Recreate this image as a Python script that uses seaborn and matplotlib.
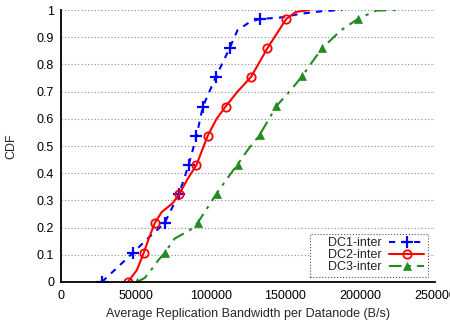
import matplotlib
matplotlib.use('Agg')
import matplotlib.pyplot as plt
import seaborn as sns
import pandas as pd

# CDF curves (bandwidth in B/s)
DC1_BW = [27300, 38000, 48000, 58000, 69300, 74000, 78700, 82000, 85300, 90500, 94700,
          103300, 112700, 118000, 126000, 132700, 146000, 160000, 175000, 188000]
DC1_CDF = [0.0, 0.055, 0.107, 0.16, 0.217, 0.27, 0.323, 0.375, 0.43, 0.535, 0.643,
           0.752, 0.86, 0.926, 0.955, 0.967, 0.972, 0.986, 0.996, 1.0]
DC1_MARKS = [0, 2, 4, 6, 8, 9, 10, 11, 12, 15]

DC2_BW = [44700, 50700, 55300, 59000, 62700, 67300, 74700, 79000, 84500, 90500, 98000,
          104000, 110000, 118000, 127000, 138000, 150700, 157000, 166000]
DC2_CDF = [0.0, 0.044, 0.107, 0.165, 0.217, 0.257, 0.29, 0.323, 0.378, 0.43, 0.537,
           0.6, 0.645, 0.70, 0.754, 0.86, 0.968, 0.993, 1.0]
DC2_MARKS = [0, 2, 4, 7, 9, 10, 12, 14, 15, 16]

DC3_BW = [50700, 56000, 61000, 65000, 69300, 76000, 86000, 91300, 97500, 104000, 111000,
          118000, 125000, 132700, 144000, 152700, 161300, 168000, 174700, 187000, 198700,
          210700, 224000]
DC3_CDF = [0.0, 0.015, 0.05, 0.08, 0.107, 0.16, 0.19, 0.217, 0.27, 0.325, 0.38,
           0.432, 0.487, 0.54, 0.647, 0.70, 0.757, 0.81, 0.86, 0.925, 0.968,
           0.998, 1.0]
DC3_MARKS = [0, 4, 7, 9, 11, 13, 14, 16, 18, 20]

X_TICKS = [0, 50000, 100000, 150000, 200000, 250000]
Y_TICKS = [0, 0.1, 0.2, 0.3, 0.4, 0.5, 0.6, 0.7, 0.8, 0.9, 1]

sns.set_style('white')
plt.rcParams['font.family'] = ['Liberation Sans', 'DejaVu Sans']

fig = plt.figure(figsize=(4.5, 3.21), dpi=100)
ax = fig.add_axes([0.1356, 0.1215, 0.8311, 0.8473])

series = [
    ('DC1-inter', DC1_BW, DC1_CDF, DC1_MARKS, '#0000ff', (0, (3, 3)),
     dict(marker='+', markersize=9, markeredgewidth=1.6)),
    ('DC2-inter', DC2_BW, DC2_CDF, DC2_MARKS, '#ff0000', '-',
     dict(marker='o', markersize=6, markerfacecolor='none', markeredgewidth=1.3)),
    ('DC3-inter', DC3_BW, DC3_CDF, DC3_MARKS, '#228b22', (0, (6, 3, 1.5, 3)),
     dict(marker='^', markersize=6, markeredgewidth=0.5)),
]

for name, bw, cdf, marks, color, ls, mk in series:
    df = pd.DataFrame({'bw': bw, 'cdf': cdf})
    sns.lineplot(data=df, x='bw', y='cdf', ax=ax, sort=False, color=color,
                 linestyle=ls, linewidth=1.5, markevery=marks, label=name,
                 markeredgecolor=color, **mk)

ax.set_xlim(0, 250000)
ax.set_ylim(0, 1)
ax.set_xticks(X_TICKS)
ax.set_xticklabels([str(v) for v in X_TICKS])
ax.set_yticks(Y_TICKS)
ax.set_yticklabels([('%g' % v) for v in Y_TICKS])
ax.tick_params(direction='in', length=5, width=1, labelsize=9, colors='black')
ax.tick_params(axis='x', pad=6)
ax.tick_params(axis='y', pad=5)

for side in ['top', 'right']:
    ax.spines[side].set_visible(False)
for side in ['left', 'bottom']:
    ax.spines[side].set_linewidth(1.3)
    ax.spines[side].set_color('black')

ax.yaxis.grid(True, linestyle=(0, (1, 2)), color='#888888', linewidth=0.8)
ax.xaxis.grid(False)
ax.set_axisbelow(True)

ax.set_xlabel('Average Replication Bandwidth per Datanode (B/s)', fontsize=9, labelpad=4)
ax.set_ylabel('CDF', fontsize=9, labelpad=14)

# leading spaces widen the box on the left like the reference key
handles, labels = ax.get_legend_handles_labels()
leg = ax.legend(handles, ['    ' + l for l in labels],
                loc='lower right', bbox_to_anchor=(0.981, 0.018), borderaxespad=0,
                fontsize=9, markerfirst=False, numpoints=1, handlelength=2.8,
                handletextpad=0.6, borderpad=0.3, labelspacing=0.0, fancybox=False,
                framealpha=1, edgecolor='#555555')
leg.get_frame().set_linestyle(':')
leg.get_frame().set_linewidth(0.8)

plt.savefig('out.png', dpi=100)
